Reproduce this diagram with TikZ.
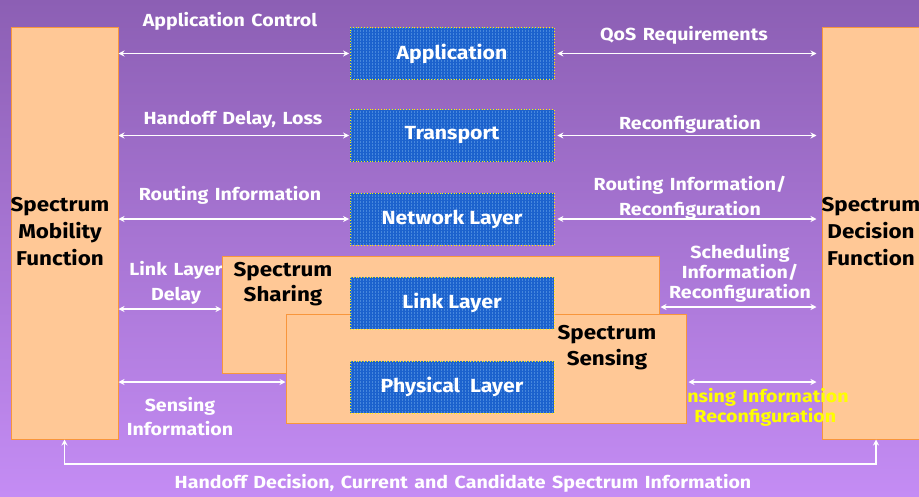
\documentclass[tikz,border=0pt]{standalone}
\usepackage{fontspec}
\setmainfont{Fira Sans}
\newfontfamily\cfont[FakeStretch=1.12]{Fira Sans}
\usetikzlibrary{patterns,arrows.meta}
\definecolor{bgtop}{RGB}{140,95,180}
\definecolor{bgbot}{RGB}{196,140,244}
\definecolor{boxfill}{RGB}{255,200,150}
\definecolor{boxline}{RGB}{248,150,60}
\definecolor{layerblue}{RGB}{28,98,205}
\definecolor{layergrid}{RGB}{70,135,220}
\definecolor{ylab}{RGB}{255,255,0}
\newcommand{\wfont}[1]{\cfont\bfseries\fontsize{17.5}{#1}\selectfont\spaceskip=6.5pt plus 1pt minus 1pt\relax}
\begin{document}
\begin{tikzpicture}[x=1pt,y=-1pt,
  funcbox/.style={draw=boxline,line width=1pt,fill=boxfill,inner sep=0pt},
  layerbox/.style={preaction={fill=layerblue},pattern=grid,pattern color=layergrid,
    draw=yellow,dotted,line width=0.8pt,minimum width=204pt,minimum height=52pt,
    inner sep=0pt,text=white,font=\cfont\bfseries\fontsize{19}{20}\selectfont},
  wlabel/.style={text=white,font=\wfont{25},align=center,inner sep=0pt},
  blabel/.style={text=black,font=\cfont\bfseries\fontsize{20}{27}\selectfont,align=center,inner sep=0pt},
  link/.style={white,line width=1.3pt,{Stealth[length=6pt,width=6pt]}-{Stealth[length=6pt,width=6pt]}},
]
\path[use as bounding box] (0,0) rectangle (919,496);
\clip (0,0) rectangle (919,496);
\shade[top color=bgtop,bottom color=bgbot] (0,0) rectangle (919,496);

% arrow labels
\node[wlabel] (lac) at (230,21) {Application Control};
\node[wlabel] (lqos) at (684,35) {QoS Requirements};
\node[wlabel] (lhd) at (233,120) {Handoff Delay, Loss};
\node[wlabel] (lrc) at (690,124) {Reconfiguration};
\node[wlabel] (lri) at (230,195) {Routing Information};
\node[wlabel] (lrir) at (690,198) {Routing Information/\\Reconfiguration};
\node[wlabel] (lld) at (176,283) {Link Layer\\Delay};
\node[wlabel,font=\wfont{20}] (lsch) at (740,273) {Scheduling\\Information/\\Reconfiguration};
\node[wlabel,font=\wfont{24}] (lsi) at (180,417) {Sensing\\Information};
\node[wlabel] (lho) at (463,483) {Handoff Decision, Current and Candidate Spectrum Information};

% function boxes
\node[funcbox,minimum width=107pt,minimum height=412pt] (mob) at (64.5,233) {};
\node[funcbox,minimum width=108pt,minimum height=412pt] (dec) at (876,233) {};
\node[wlabel,text=ylab,font=\wfont{20}] (lsir) at (757,407) {Sensing Information\\/ Reconfiguration};
\node[funcbox,minimum width=437pt,minimum height=117pt] (share) at (440.5,314.5) {};
\node[funcbox,minimum width=400pt,minimum height=109pt] (sense) at (486,368.5) {};

% layer boxes
\node[layerbox] (app) at (452,53.5) {Application};
\node[layerbox] (tra) at (452,135.5) {Transport};
\node[layerbox] (net) at (452,219) {Network Layer};
\node[layerbox] (lnk) at (452,303) {Link Layer};
\node[layerbox] (phy) at (452,387) {Physical\ \ Layer};

% black labels
\node[blabel] (tmob) at (60,232) {Spectrum\\Mobility\\Function};
\node[blabel] (tdec) at (871,232) {Spectrum\\Decision\\Function};
\node[blabel,font=\cfont\bfseries\fontsize{20}{25}\selectfont] (tsha) at (283,284) {Spectrum\\Sharing};
\node[blabel,font=\cfont\bfseries\fontsize{20}{26}\selectfont] (tsen) at (607,348) {Spectrum\\Sensing};

% connectors
\coordinate (dl) at (0,309);
\coordinate (sc) at (0,307);
\coordinate (sn) at (0,382);
\coordinate (bt) at (0,464);
\foreach \n in {app,tra,net}{
  \draw[link,shorten >=0.5pt] (mob.east |- \n.west) -- (\n.west);
  \draw[link,shorten <=3pt,shorten >=5pt] (\n.east) -- (dec.west |- \n.east);
}
\draw[link] (mob.east |- dl) -- (share.west |- dl);
\draw[link,shorten <=1pt,shorten >=5pt] (share.east |- sc) -- (dec.west |- sc);
\draw[link] (mob.east |- sn) -- (sense.west |- sn);
\draw[link,shorten <=2pt,shorten >=5pt] (sense.east |- sn) -- (dec.west |- sn);
\draw[link] (mob.south) -- (mob.south |- bt) -- (dec.south |- bt) -- (dec.south);
\end{tikzpicture}
\end{document}
